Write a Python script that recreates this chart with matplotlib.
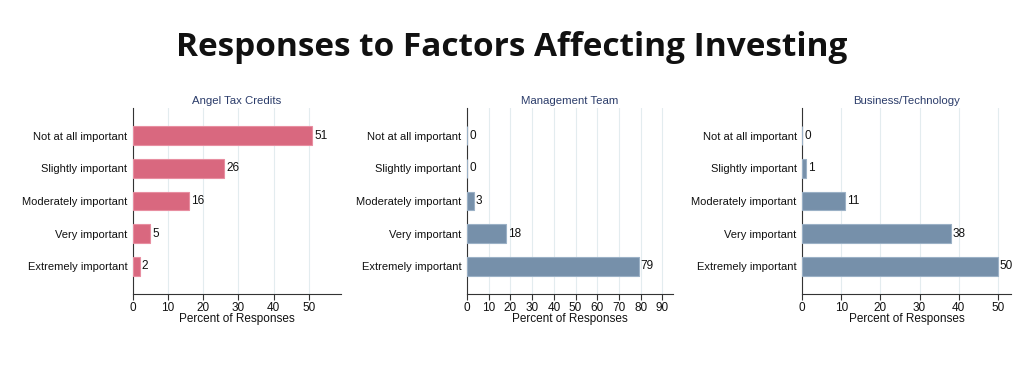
import matplotlib
matplotlib.use("Agg")
import matplotlib.pyplot as plt
import numpy as np

categories = ["Not at all important", "Slightly important", "Moderately important",
              "Very important", "Extremely important"]
panel_titles = ["Angel Tax Credits", "Management Team", "Business/Technology"]
angel_tax = [51, 26, 16, 5, 2]
management = [0, 0, 3, 18, 79]
business = [0, 1, 11, 38, 50]
xticks_list = [[0, 10, 20, 30, 40, 50],
               [0, 10, 20, 30, 40, 50, 60, 70, 80, 90],
               [0, 10, 20, 30, 40, 50]]
xlims = [59, 95, 53.4]
colors = ["#d9687f", "#7690aa"]
edgecolors = ["#e88ea1", "#9bb1c6"]

plt.rcParams['font.family'] = ['Liberation Sans', 'DejaVu Sans']

fig = plt.figure(figsize=(10.24, 3.76), dpi=100)
fig.text(0.5, 1 - 47/376, "Responses to Factors Affecting Investing",
         ha='center', va='center', fontsize=24, fontweight='bold',
         family=['Open Sans', 'DejaVu Sans'], color='#111111')

# axes placement in pixels: (left, right)
lefts = [132.7, 467.0, 802.3]
rights = [340.7, 673.3, 1011.0]
top_px, bot_px = 108, 294
series = [angel_tax, management, business]
ypos = np.arange(len(categories))

for i in range(3):
    ax = fig.add_axes([lefts[i]/1024, 1 - bot_px/376,
                       (rights[i]-lefts[i])/1024, (bot_px-top_px)/376])
    ci = 0 if i == 0 else 1
    vals = series[i]
    ax.barh(ypos, vals, height=0.58, color=colors[ci],
            edgecolor=edgecolors[ci], linewidth=0.8, zorder=3)
    for y, v in zip(ypos, vals):
        ax.text(v + xlims[i]*0.01, y, str(v), va='center', ha='left',
                fontsize=8.5, color='#111111', zorder=4)
    ax.set_ylim(4.85, -0.85)
    ax.set_xlim(0, xlims[i])
    ax.set_yticks(ypos)
    ax.set_yticklabels(categories, fontsize=8, color='#111111')
    ax.set_xticks(xticks_list[i])
    ax.set_xticklabels([str(t) for t in xticks_list[i]], fontsize=8.5, color='#111111')
    ax.tick_params(axis='y', length=0, pad=4)
    ax.tick_params(axis='x', length=4, width=0.8, color='#333333', pad=2)
    ax.grid(axis='x', color='#e3ecef', linewidth=0.8, zorder=0)
    for s in ['top', 'right']:
        ax.spines[s].set_visible(False)
    for s in ['left', 'bottom']:
        ax.spines[s].set_color('#333333')
        ax.spines[s].set_linewidth(0.8)
    ax.set_title(panel_titles[i], fontsize=8.2, color='#2b3c6a', pad=3)
    ax.set_xlabel("Percent of Responses", fontsize=8.5, color='#111111', labelpad=-1)

fig.savefig("out.png", dpi=100, facecolor='white')
